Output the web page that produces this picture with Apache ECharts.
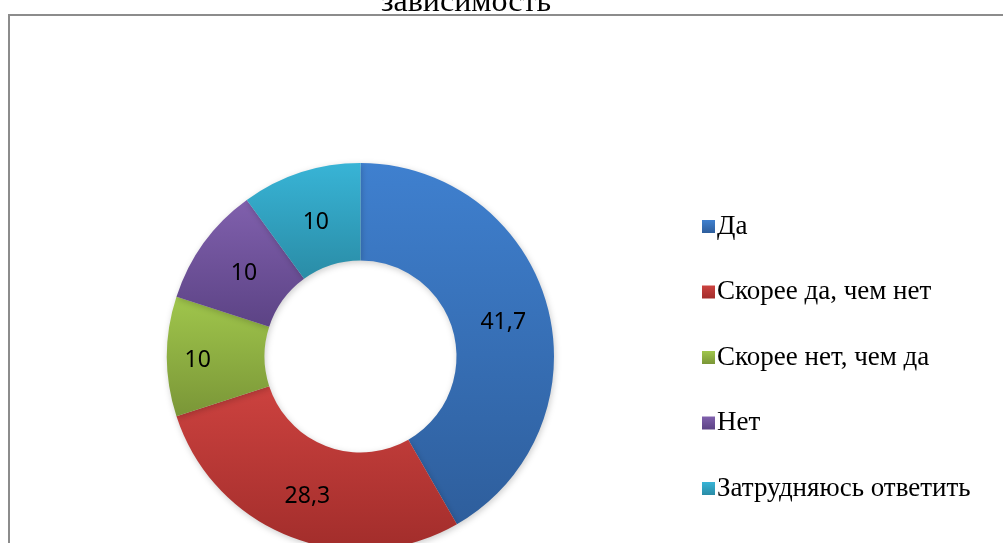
<!DOCTYPE html>
<html>
<head>
<meta charset="utf-8">
<style>
  html, body { margin: 0; padding: 0; background: #fff; }
  #chart { width: 1003px; height: 543px; }
</style>
<script src="https://cdn.jsdelivr.net/npm/echarts@6/dist/echarts.min.js"></script>
</head>
<body>
<div id="chart"></div>
<script>
"use strict";
var categories = ["Да", "Скорее да, чем нет", "Скорее нет, чем да", "Нет", "Затрудняюсь ответить"];
var values = [41.7, 28.3, 10, 10, 10];
var colorTop = ["#3f80cf", "#cc423f", "#a0c64c", "#8060ad", "#38b4d6"];
var colorBottom = ["#2e5e9c", "#a22d2b", "#7a9637", "#5c4385", "#2a8ca6"];
// excel places the small slice labels a bit off mid-radius
var labelOffsets = [[0, 4], [0, 2], [-15, 4], [3, 4], [1, 6]];

function chart1() {
  var chart = echarts.init(document.getElementById("chart"));

  var data = values.map(function (v, i) {
    return {
      name: categories[i],
      value: v,
      label: { offset: labelOffsets[i] },
      itemStyle: {
        color: new echarts.graphic.LinearGradient(0, 0, 0, 1, [
          { offset: 0, color: colorTop[i] },
          { offset: 1, color: colorBottom[i] },
        ]),
      },
    };
  });

  chart.setOption({
    animation: false,
    title: {
      text: "зависимость",
      left: 461,
      top: -18,
      textAlign: "center",
      textStyle: {
        fontFamily: "Liberation Serif",
        fontWeight: "normal",
        fontSize: 32,
        color: "#000",
      },
    },
    graphic: [
      {
        type: "rect",
        shape: { x: 9, y: 15, width: 1100, height: 600 },
        style: { fill: "none", stroke: "#8c8c8c", lineWidth: 2 },
        z: -1,
      },
    ],
    legend: {
      orient: "vertical",
      left: 697,
      top: 208,
      itemWidth: 13,
      itemHeight: 13,
      itemGap: 38.5,
      icon: "rect",
      textStyle: {
        fontFamily: "Liberation Serif",
        fontSize: 27,
        lineHeight: 26,
        color: "#000",
        padding: [0, 0, 0, -3],
      },
      data: categories,
    },
    series: [
      {
        type: "pie",
        center: [360.5, 356.5],
        radius: [96, 193.5],
        startAngle: 90,
        clockwise: true,
        avoidLabelOverlap: false,
        label: {
          show: true,
          position: "inside",
          fontFamily: "Noto Sans",
          fontSize: 23,
          color: "#000",
          formatter: function (p) {
            return String(p.value).replace(".", ",");
          },
        },
        labelLine: { show: false },
        itemStyle: {
          borderWidth: 0,
          shadowBlur: 6,
          shadowColor: "rgba(0,0,0,0.2)",
          shadowOffsetX: 1,
          shadowOffsetY: 2,
        },
        emphasis: { disabled: true },
        data: data,
      },
    ],
  });
}

chart1();
</script>
</body>
</html>
